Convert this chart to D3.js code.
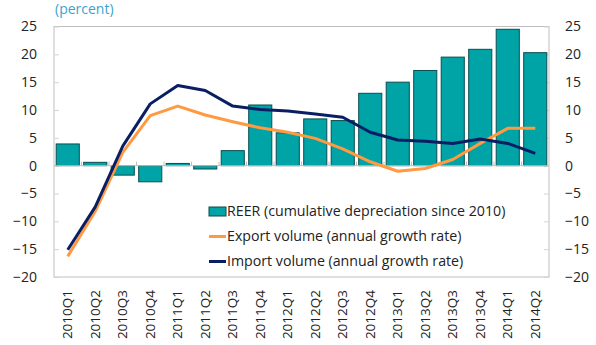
<!DOCTYPE html>
<html>
<head>
<meta charset="utf-8">
<script src="https://cdn.jsdelivr.net/npm/d3@7/dist/d3.min.js"></script>
<style>
  html, body { margin: 0; padding: 0; background: #fff; }
  svg { display: block; }
  text { font-family: "Open Sans", "Noto Sans", sans-serif; fill: #222; }
</style>
</head>
<body>
<svg id="chart" width="596" height="345"></svg>
<script>
// Quarterly series
const quarters = ["2010Q1","2010Q2","2010Q3","2010Q4","2011Q1","2011Q2","2011Q3","2011Q4",
  "2012Q1","2012Q2","2012Q3","2012Q4","2013Q1","2013Q2","2013Q3","2013Q4","2014Q1","2014Q2"];
const reer = [3.9, 0.6, -1.7, -2.9, 0.4, -0.6, 2.7, 10.9, 5.9, 8.4, 8.1, 13.0, 15.0, 17.1, 19.5, 20.9, 24.5, 20.3];
const exportVol = [-16.3, -8.2, 2.4, 9.0, 10.7, 9.1, 7.9, 6.8, 6.0, 4.9, 3.0, 0.7, -1.0, -0.5, 1.1, 4.0, 6.7, 6.7];
const importVol = [-15.1, -7.4, 3.5, 11.1, 14.4, 13.5, 10.7, 10.1, 9.8, 9.3, 8.7, 6.0, 4.6, 4.4, 4.0, 4.8, 4.0, 2.2];
const yTicks = [-20, -15, -10, -5, 0, 5, 10, 15, 20, 25];
const legendLabels = ["REER (cumulative depreciation since 2010)",
  "Export volume (annual growth rate)", "Import volume (annual growth rate)"];

const colors = { bar: "#00a3a6", barStroke: "#0b4d4f", exp: "#ff9a40", imp: "#0a1e64", axis: "#bfbfbf" };
const plot = { left: 54, right: 549, top: 26.5, bottom: 277 };

const svg = d3.select("#chart");
const x = d3.scaleBand().domain(quarters).range([plot.left, plot.right]).paddingInner(0.16).paddingOuter(0.08);
const xc = d3.scaleBand().domain(quarters).range([plot.left, plot.right]);
const y = d3.scaleLinear().domain([-20, 25]).range([plot.bottom, plot.top]);

// plot frame
svg.append("rect")
  .attr("x", plot.left).attr("y", plot.top)
  .attr("width", plot.right - plot.left).attr("height", plot.bottom - plot.top)
  .attr("fill", "none").attr("stroke", colors.axis).attr("stroke-width", 1);

// left / right axes with inward ticks
const leftAxis = d3.axisLeft(y).tickValues(yTicks).tickSize(-5).tickPadding(17);
const gl = svg.append("g").attr("transform", `translate(${plot.left},0)`).call(leftAxis);
const rightAxis = d3.axisRight(y).tickValues(yTicks).tickSize(-5).tickPadding(16);
const gr = svg.append("g").attr("transform", `translate(${plot.right},0)`).call(rightAxis);
[gl, gr].forEach(g => {
  g.select(".domain").remove();
  g.selectAll(".tick line").attr("stroke", "#d4d4d4");
  g.selectAll(".tick text").style("font-size", "14px").attr("fill", "#222")
    .style("font-family", "'Open Sans', sans-serif");
});

// bars
svg.append("g").selectAll("rect").data(reer).join("rect")
  .attr("x", (d, i) => x(quarters[i]))
  .attr("width", x.bandwidth())
  .attr("y", d => y(Math.max(0, d)))
  .attr("height", d => Math.abs(y(d) - y(0)))
  .attr("fill", colors.bar)
  .attr("stroke", colors.barStroke).attr("stroke-width", 1);

// zero line with category ticks
svg.append("line").attr("x1", plot.left).attr("x2", plot.right)
  .attr("y1", y(0)).attr("y2", y(0)).attr("stroke", colors.axis);
svg.append("g").selectAll("line").data(quarters.slice(1)).join("line")
  .attr("x1", d => xc(d)).attr("x2", d => xc(d))
  .attr("y1", y(0)).attr("y2", y(0) - 4)
  .attr("stroke", colors.axis);

// lines
const line = d3.line().x((d, i) => xc(quarters[i]) + xc.bandwidth() / 2).y(d => y(d));
svg.append("path").datum(exportVol).attr("d", line)
  .attr("fill", "none").attr("stroke", colors.exp).attr("stroke-width", 3).attr("stroke-linejoin", "round");
svg.append("path").datum(importVol).attr("d", line)
  .attr("fill", "none").attr("stroke", colors.imp).attr("stroke-width", 3).attr("stroke-linejoin", "round");

// x labels (rotated)
const xAxis = d3.axisBottom(xc).tickSize(0).tickPadding(0);
const gx = svg.append("g").attr("transform", `translate(0,${plot.bottom})`).call(xAxis);
gx.select(".domain").remove();
gx.selectAll(".tick text")
  .attr("transform", "translate(0,13) rotate(-90)")
  .attr("text-anchor", "end").attr("dy", "0.35em").attr("x", 0).attr("y", 0)
  .style("font-size", "13.5px").attr("fill", "#222")
  .style("font-family", "'Open Sans', sans-serif");

// unit label
svg.append("text").attr("x", 55).attr("y", 14).text("(percent)")
  .style("font-size", "14px").style("fill", "#3aa3cc");

// legend
const lg = svg.append("g");
const rows = [211.5, 236.5, 261.5];
lg.append("rect").attr("x", 209).attr("y", 207).attr("width", 17).attr("height", 9)
  .attr("fill", colors.bar).attr("stroke", colors.barStroke);
lg.append("line").attr("x1", 209).attr("x2", 226).attr("y1", rows[1]).attr("y2", rows[1])
  .attr("stroke", colors.exp).attr("stroke-width", 3);
lg.append("line").attr("x1", 209).attr("x2", 226).attr("y1", rows[2]).attr("y2", rows[2])
  .attr("stroke", colors.imp).attr("stroke-width", 3);
lg.selectAll("text").data(legendLabels).join("text")
  .attr("x", 227).attr("y", (d, i) => rows[i]).attr("dy", "0.35em")
  .text(d => d).style("font-size", "14.2px");
</script>
</body>
</html>
